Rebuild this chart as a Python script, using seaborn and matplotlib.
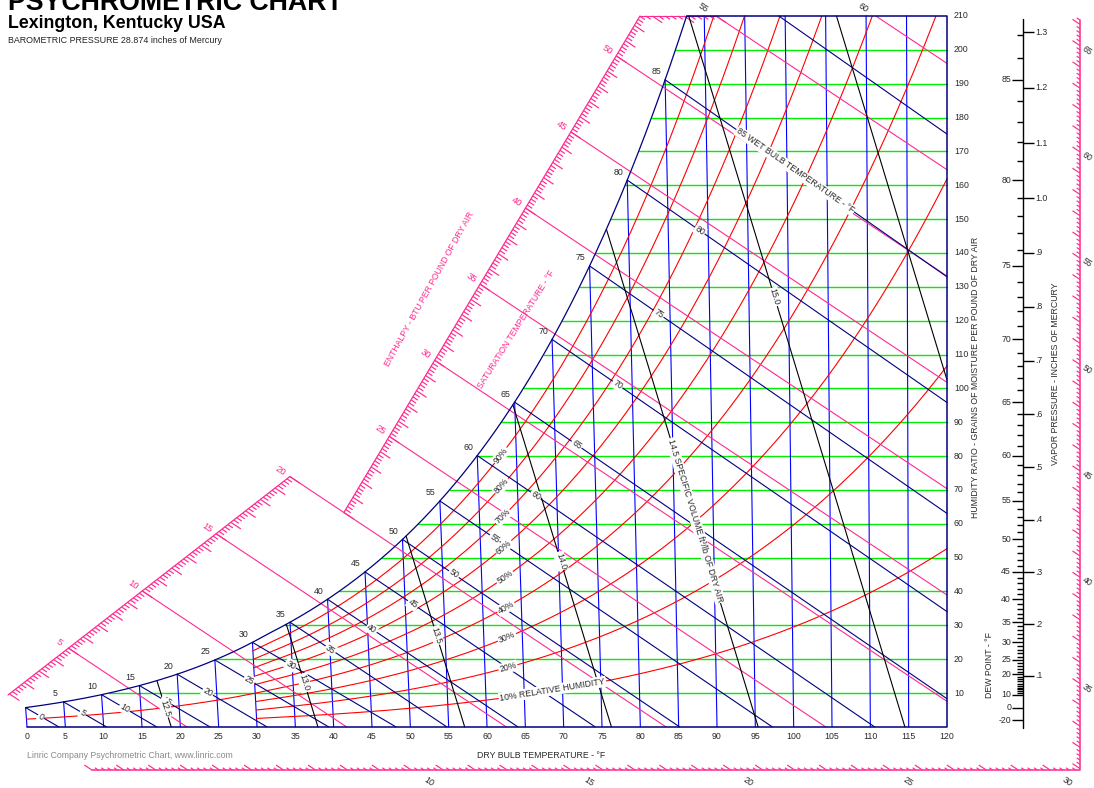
import numpy as np
import pandas as pd
import matplotlib
matplotlib.use("Agg")
import matplotlib.pyplot as plt
from matplotlib.collections import LineCollection
import seaborn as sns

sns.set_theme(style="white")
plt.rcParams["font.family"] = ["Liberation Sans", "DejaVu Sans"]

# ---------------- chart values ----------------
BAROMETRIC_INHG = 28.874
dry_bulb_ticks = list(range(0, 125, 5))
grain_ticks = list(range(10, 220, 10))
saturation_labels = list(range(5, 90, 5))
wet_bulb_temps = list(range(0, 95, 5))
wet_bulb_labels = list(range(0, 85, 5))
rh_levels = [10, 20, 30, 40, 50, 60, 70, 80, 90]
rh_texts = ["10% RELATIVE HUMIDITY", "20%", "30%", "40%", "50%", "60%", "70%", "80%", "90%"]
volume_levels = [12.5, 13.0, 13.5, 14.0, 14.5, 15.0, 15.5]
volume_texts = ["12.5", "13.0", "13.5", "14.0",
                "14.5 SPECIFIC VOLUME ft\u00b3/lb OF DRY AIR", "15.0", ""]
enthalpy_levels = list(range(5, 65, 5))
left_scale_labels = list(range(5, 55, 5))
top_scale_labels = [55, 60]
bottom_scale_labels = [10, 15, 20, 25, 30]
right_scale_labels = [35, 40, 45, 50, 55, 60, 65]
dew_point_major = [85, 80, 75, 70, 65, 60, 55, 50, 45, 40, 35, 30, 25, 20, 10, 0, -20]
dew_point_minor = [d for d in range(11, 88) if d not in dew_point_major]
vapor_pressure_ticks = [0.1, 0.2, 0.3, 0.4, 0.5, 0.6, 0.7, 0.8, 0.9, 1.0, 1.1, 1.2, 1.3]
vapor_pressure_texts = [".1", ".2", ".3", ".4", ".5", ".6", ".7", ".8", ".9",
                        "1.0", "1.1", "1.2", "1.3"]

# ---------------- colours ----------------
C_GREEN = "#00ee00"
C_BLUE = "#0000ff"
C_RED = "#ff0000"
C_PINK = "#ff2a90"
C_NAVY = "#000080"
C_TEXT = "#2a2a2a"

# ---------------- psychrometric relations (IP units) ----------------
P = BAROMETRIC_INHG * 0.491154          # psia
GR = 7000.0
W_TOP = 210 / GR
K_SKEW = 0.444 / 0.24                   # oblique enthalpy coordinate


def p_ws(t):
    T = np.asarray(t, float) + 459.67
    ice = np.exp(-1.0214165e4 / T - 4.8932428 - 5.3765794e-3 * T + 1.9202377e-7 * T**2
                 + 3.5575832e-10 * T**3 - 9.0344688e-14 * T**4 + 4.1635019 * np.log(T))
    water = np.exp(-1.0440397e4 / T - 1.1294650e1 - 2.7022355e-2 * T + 1.2890360e-5 * T**2
                   - 2.4780681e-9 * T**3 + 6.5459673 * np.log(T))
    return np.where(np.asarray(t) < 32, ice, water)


def w_from_pw(pw):
    return 0.621945 * pw / (P - pw)


def w_sat(t):
    return w_from_pw(p_ws(t))


def chart_x(t, w):
    return t + K_SKEW * w * (t - 120.0)


def enthalpy(X, G):
    return 0.24 * X + 1114.28 * G / GR


ts_tab = np.linspace(-30, 100, 26001)
ws_tab = w_sat(ts_tab)


def dew_point(w):
    return np.interp(w, ws_tab, ts_tab)


t_top = dew_point(W_TOP)

# ---------------- figure ----------------
W_PX, H_PX = 1094, 788
fig = plt.figure(figsize=(W_PX / 100, H_PX / 100), dpi=100)
ax = fig.add_axes([0, 0, 1, 1])
ax.set_axis_off()
X0_PX, PX_PER_F = 27.0, 920.0 / 120.0
G0_PX, PX_PER_GR = 726.85, 3.385
XLIM = (-X0_PX / PX_PER_F, (W_PX - X0_PX) / PX_PER_F)
YLIM = ((G0_PX - H_PX) / PX_PER_GR, G0_PX / PX_PER_GR)
ax.set_xlim(*XLIM)
ax.set_ylim(*YLIM)


def at_px(px, py):
    return np.array([(px - X0_PX) / PX_PER_F, (G0_PX - py) / PX_PER_GR])


# unit step (one pixel) along a constant-enthalpy line, heading down-right
_dx = 1114.28 / 0.24 / GR * PX_PER_F
_dy = PX_PER_GR
_n = np.hypot(_dx, _dy)
UX, UY = (_dx / _n) / PX_PER_F, -(_dy / _n) / PX_PER_GR
H_ANGLE = -np.degrees(np.arctan2(_dy, _dx))

LW = 0.8


def angle_between(p_from, p_to):
    a = ax.transData.transform(p_from)
    b = ax.transData.transform(p_to)
    return np.degrees(np.arctan2(b[1] - a[1], b[0] - a[0]))


def along(p_from, p_to, dist_px):
    a = ax.transData.transform(p_from)
    b = ax.transData.transform(p_to)
    v = (b - a) / np.hypot(*(b - a))
    return ax.transData.inverted().transform(a + v * dist_px)


label_box = dict(boxstyle="square,pad=0.12", fc="white", ec="none")

# ---- constant humidity ratio lines ----
for g in grain_ticks:
    if g >= 210:
        continue
    w = g / GR
    td = dew_point(w)
    ax.plot([chart_x(td, w), 120], [g, g], color=C_GREEN, lw=LW + 0.2, zorder=1)

# ---- dry bulb lines ----
for t in dry_bulb_ticks[:-1]:
    w_end = min(float(w_sat(t)), W_TOP)
    ax.plot([chart_x(t, 0), chart_x(t, w_end)], [0, w_end * GR], color=C_BLUE, lw=LW, zorder=2)

# ---- relative humidity curves ----
rh_frames = []
for rh in rh_levels:
    t = np.arange(0.0 if rh == 40 else 30.0, 120.0001, 0.02)
    w = w_from_pw(rh / 100 * p_ws(t))
    keep = w <= W_TOP
    rh_frames.append(pd.DataFrame({"X": chart_x(t[keep], w[keep]), "G": w[keep] * GR,
                                   "rh": str(rh)}))
rh_df = pd.concat(rh_frames, ignore_index=True)
sns.lineplot(data=rh_df, x="X", y="G", hue="rh", palette={str(r): C_RED for r in rh_levels},
             estimator=None, sort=False, legend=False, lw=LW, ax=ax, zorder=3)

# ---- enthalpy rulers and lines ----
def line_point_at_h(A, B, h):
    hA, hB = enthalpy(*A), enthalpy(*B)
    s = (h - hA) / (hB - hA)
    return A + s * (B - A)


A1 = at_px(8, 695)
B1 = line_point_at_h(A1, at_px(288, 478), 20.0)
r2a, r2b = at_px(343, 514), at_px(640, 16)
A2 = line_point_at_h(r2a, r2b, 20.0)
sB = (210 - A2[1]) / (r2b[1] - A2[1])
B2 = A2 + sB * (r2b - A2)
h_B2 = enthalpy(*B2)

G_BOT = (G0_PX - 770) / PX_PER_GR
X_RIGHT = (1080 - X0_PX) / PX_PER_F
h_corner = enthalpy(X_RIGHT, G_BOT)
G_RTOP = (G0_PX - 20) / PX_PER_GR
h_rtop = enthalpy(X_RIGHT, G_RTOP)

ax.plot([A1[0], B1[0]], [A1[1], B1[1]], color=C_PINK, lw=LW + 0.1, zorder=3)
ax.plot([A2[0], B2[0]], [A2[1], B2[1]], color=C_PINK, lw=LW + 0.1, zorder=3)
X_top55 = (55 - 1114.28 * W_TOP) / 0.24
ax.plot([B2[0], X_top55], [210, 210], color=C_PINK, lw=LW, zorder=3)
X_b0 = (0 - 1114.28 * G_BOT / GR) / 0.24
ax.plot([X_b0, X_RIGHT, X_RIGHT], [G_BOT, G_BOT, G_RTOP], color=C_PINK, lw=LW + 0.3,
        zorder=3, clip_on=False)

segs = []


def add_ticks(points, hs, sign, minor, major):
    for (x, y), h in zip(points, hs):
        L = major if abs(h - round(h)) < 1e-6 else minor
        segs.append([(x, y), (x + sign * L * UX, y + sign * L * UY)])


def h_range(h0, h1):
    start = np.ceil(h0 / 0.2 - 1e-6) * 0.2
    return np.round(np.arange(start, h1 + 1e-6, 0.2), 2)


hs = h_range(enthalpy(*A1), 20.0)
add_ticks([line_point_at_h(A1, B1, h) for h in hs], hs, +1, 6, 12)
hs = h_range(20.0, h_B2)
add_ticks([line_point_at_h(A2, B2, h) for h in hs], hs, +1, 6, 12)
hs = h_range(h_B2, 55.0)
add_ticks([((h - 1114.28 * W_TOP) / 0.24, 210.0) for h in hs], hs, +1, 6, 12)
hs = h_range(0.0, h_corner)
add_ticks([((h - 1114.28 * G_BOT / GR) / 0.24, G_BOT) for h in hs], hs, -1, 4, 9)
hs = h_range(h_corner, h_rtop)
add_ticks([(X_RIGHT, (h - 0.24 * X_RIGHT) * GR / 1114.28) for h in hs], hs, -1, 4, 9)
ax.add_collection(LineCollection(segs, colors=C_PINK, linewidths=0.85, zorder=3))

for h in enthalpy_levels:
    if h <= 20:
        start = line_point_at_h(A1, B1, h)
    elif h <= h_B2:
        start = line_point_at_h(A2, B2, h)
    else:
        start = np.array([(h - 1114.28 * W_TOP) / 0.24, 210.0])
    x_end = h / 0.24
    end = (x_end, 0.0) if x_end <= 120 else (120.0, (h - 0.24 * 120) * GR / 1114.28)
    ax.plot([start[0], end[0]], [start[1], end[1]], color=C_PINK, lw=LW, zorder=3)

for h in left_scale_labels:
    p = line_point_at_h(A1, B1, h) if h <= 20 else line_point_at_h(A2, B2, h)
    ax.text(p[0] - 11 * UX, p[1] - 11 * UY, str(h), color=C_PINK, fontsize=6.8,
            rotation=H_ANGLE, ha="center", va="center", zorder=6)
for h in top_scale_labels:
    x = (h - 1114.28 * W_TOP) / 0.24
    ax.text(x - 15 * UX, 210 - 15 * UY, str(h), color=C_TEXT, fontsize=6.5,
            rotation=H_ANGLE, ha="center", va="center", zorder=6)
for h in bottom_scale_labels:
    x = (h - 1114.28 * G_BOT / GR) / 0.24
    ax.text(x + 21 * UX, G_BOT + 21 * UY, str(h), color=C_TEXT, fontsize=6.5,
            rotation=H_ANGLE, ha="center", va="center", zorder=6, clip_on=False)
for h in right_scale_labels:
    g = (h - 0.24 * X_RIGHT) * GR / 1114.28
    ax.text(X_RIGHT + 8.5 * UX, g + 8.5 * UY, str(h), color=C_TEXT, fontsize=6.3,
            rotation=H_ANGLE, ha="center", va="center", zorder=6, clip_on=False)

# ---- wet bulb lines ----
def wet_bulb_parts(twb):
    ws = float(w_sat(twb))
    if twb >= 32:
        a, d0 = (1093 - 0.556 * twb) * ws, 1093 - twb
    else:
        a, d0 = (1220 - 0.04 * twb) * ws, 1220 - 0.48 * twb
    return a, d0


for twb in wet_bulb_temps:
    a, d0 = wet_bulb_parts(twb)
    t_zero = twb + a / 0.24
    t_end = min(t_zero, 120.0)
    t_start = twb
    if float(w_sat(twb)) > W_TOP:
        t_start = (a + 0.24 * twb - W_TOP * d0) / (0.24 + 0.444 * W_TOP)
    t = np.linspace(t_start, t_end, 120)
    w = np.clip((a - 0.24 * (t - twb)) / (d0 + 0.444 * t), 0, None)
    X, G = chart_x(t, w), w * GR
    ax.plot(X, G, color=C_NAVY, lw=LW, zorder=4)
    p0, p1 = (X[0], G[0]), (X[-1], G[-1])
    if twb in wet_bulb_labels:
        pos = along(p0, p1, 18 + 0.88 * twb)
        ax.text(pos[0], pos[1], str(twb), fontsize=6.3, color=C_TEXT, rotation=angle_between(p0, p1),
                rotation_mode="anchor", ha="center", va="center", bbox=label_box, zorder=7)
    elif twb == 85:
        pos = along(p0, p1, 88)
        ax.text(pos[0], pos[1], "85 WET BULB TEMPERATURE - \u00b0F", fontsize=6.3, color=C_TEXT,
                rotation=angle_between(p0, p1), rotation_mode="anchor", ha="left", va="center",
                bbox=label_box, zorder=7)

# ---- specific volume lines ----
volume_label_grains = [5.5, 13, 27, 49, 85, 127]


def volume_t(v, w):
    return v * P / (0.370486 * (1 + 1.607858 * w)) - 459.67


w_grid = np.linspace(0, W_TOP, 6001)
for i, v in enumerate(volume_levels):
    t = volume_t(v, w_grid)
    keep = (w_grid <= w_sat(t)) & (t <= 120.0)
    X, G = chart_x(t[keep], w_grid[keep]), w_grid[keep] * GR
    ax.plot(X, G, color="black", lw=LW, zorder=4)
    if i < len(volume_label_grains) and volume_texts[i]:
        wl = volume_label_grains[i] / GR
        pt = (chart_x(volume_t(v, wl), wl), wl * GR)
        w_hi, w_lo = wl + 0.001, max(wl - 0.001, 0)
        rot = angle_between((chart_x(volume_t(v, w_hi), w_hi), w_hi * GR),
                            (chart_x(volume_t(v, w_lo), w_lo), w_lo * GR))
        long_label = len(volume_texts[i]) > 5
        ax.text(pt[0], pt[1], volume_texts[i], fontsize=6.3, color=C_TEXT, rotation=rot,
                rotation_mode="anchor", ha="left" if long_label else "center", va="center",
                bbox=label_box, zorder=7)

# ---- relative humidity labels ----
for rh, txt in zip(rh_levels, rh_texts):
    t_lab = 61.8 if rh == 10 else 63.0
    def rh_pt(t):
        w = w_from_pw(rh / 100 * p_ws(t))
        return (chart_x(t, w), w * GR)
    t_dir = 68.5 if rh == 10 else t_lab
    rot = angle_between(rh_pt(t_dir - 1.5), rh_pt(t_dir + 1.5))
    ax.text(*rh_pt(t_lab), txt, fontsize=6.3, color=C_TEXT, rotation=rot, rotation_mode="anchor",
            ha="left" if rh == 10 else "center", va="center", bbox=label_box, zorder=7)

# ---- saturation curve and frame ----
t_s = np.linspace(0, t_top, 400)
w_s = w_sat(t_s)
ax.plot(chart_x(t_s, w_s), w_s * GR, color=C_NAVY, lw=LW + 0.1, zorder=5)
ax.plot([chart_x(t_top, W_TOP), 120, 120, 0], [210, 210, 0, 0], color=C_NAVY, lw=LW + 0.3, zorder=5)

for t in saturation_labels:
    w = float(w_sat(t))
    ax.annotate(str(t), xy=(chart_x(t, w), w * GR), xytext=(-9, 8), textcoords="offset pixels",
                fontsize=6.3, color=C_TEXT, ha="center", va="center", zorder=7)

# ---- axis tick labels ----
for t in dry_bulb_ticks:
    ax.annotate(str(t), xy=(t, 0), xytext=(0, -10), textcoords="offset pixels",
                fontsize=6.3, color=C_TEXT, ha="center", va="center")
for g in grain_ticks:
    ax.annotate(str(g), xy=(120, g), xytext=(7, 0), textcoords="offset pixels",
                fontsize=6.3, color=C_TEXT, ha="left", va="center")

# ---- dew point / vapour pressure scale ----
X_DP = (1023 - X0_PX) / PX_PER_F
tick_major, tick_minor = 11 / PX_PER_F, 6 / PX_PER_F
ax.plot([X_DP, X_DP], [-0.3, (G0_PX - 19) / PX_PER_GR], color="black", lw=1.0, zorder=5)
dp_segs = []
for d in dew_point_major:
    g = float(w_sat(d)) * GR
    dp_segs.append([(X_DP - tick_major, g), (X_DP, g)])
    ax.text(X_DP - tick_major - 1 / PX_PER_F, g, str(d), fontsize=6.3, color=C_TEXT,
            ha="right", va="center")
for d in dew_point_minor:
    g = float(w_sat(d)) * GR
    dp_segs.append([(X_DP - tick_minor, g), (X_DP, g)])
for p_in, txt in zip(vapor_pressure_ticks, vapor_pressure_texts):
    g = float(w_from_pw(p_in * 0.491154)) * GR
    dp_segs.append([(X_DP, g), (X_DP + tick_major, g)])
    ax.text(X_DP + tick_major + 1 / PX_PER_F, g, txt, fontsize=6.3, color=C_TEXT,
            ha="left", va="center")
ax.add_collection(LineCollection(dp_segs, colors="black", linewidths=1.0, zorder=5))

ax.set_xlim(*XLIM)
ax.set_ylim(*YLIM)
ax.set_xlabel("")
ax.set_ylabel("")


# ---------------- titles and axis captions ----------------
def fig_text(px, py, s, **kw):
    fig.text(px / W_PX, 1 - py / H_PX, s, **kw)


fig_text(8, 10, "PSYCHROMETRIC CHART", fontsize=19.3, fontweight="bold", color="black",
         ha="left", va="baseline")
fig_text(8, 28.5, "Lexington, Kentucky USA", fontsize=12.8, fontweight="bold", color="black",
         ha="left", va="baseline")
fig_text(8, 43, "BAROMETRIC PRESSURE 28.874 inches of Mercury", fontsize=6.4, color="#222222",
         ha="left", va="baseline")
fig_text(541, 755, "DRY BULB TEMPERATURE - \u00b0F", fontsize=6.3, color=C_TEXT,
         ha="center", va="center")
fig_text(27, 756, "Linric Company Psychrometric Chart, www.linric.com", fontsize=6.3,
         color="#8a8a8a", ha="left", va="center")
fig_text(975, 377, "HUMIDITY RATIO - GRAINS OF MOISTURE PER POUND OF DRY AIR", fontsize=6.3,
         color=C_TEXT, rotation=90, ha="center", va="center")
fig_text(1055, 374, "VAPOR PRESSURE - INCHES OF MERCURY", fontsize=6.3, color=C_TEXT,
         rotation=90, ha="center", va="center")
fig_text(990, 665, "DEW POINT - \u00b0F", fontsize=6.3, color=C_TEXT, rotation=90,
         ha="center", va="center")
fig_text(429, 289, "ENTHALPY - BTU PER POUND OF DRY AIR", fontsize=6.2, color=C_PINK,
         rotation=61, ha="center", va="center")
fig_text(516, 329, "SATURATION TEMPERATURE - \u00b0F", fontsize=6.2, color=C_PINK,
         rotation=58, ha="center", va="center")

fig.savefig("out.png", dpi=100)
